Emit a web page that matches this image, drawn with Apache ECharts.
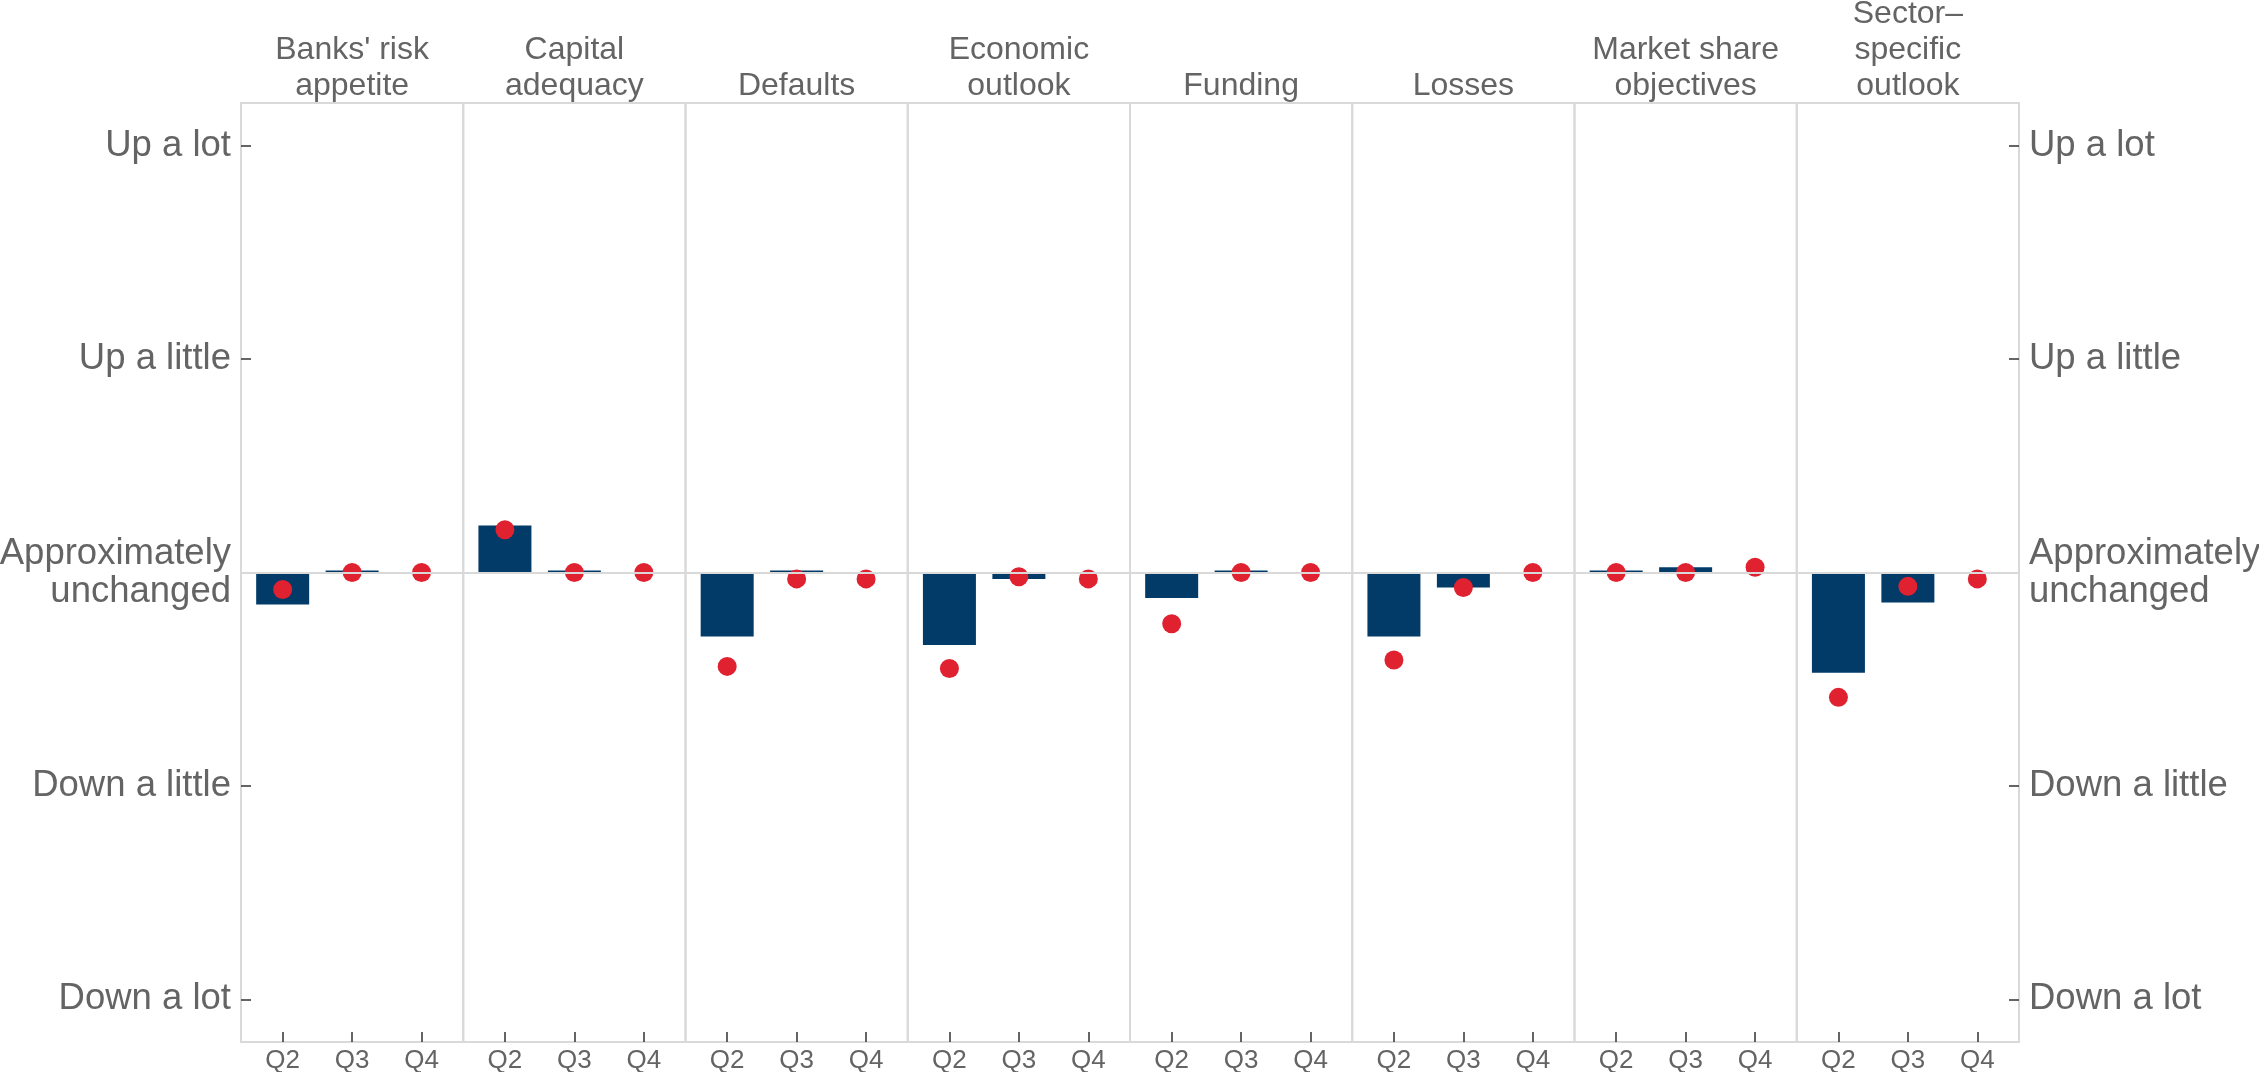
<!DOCTYPE html>
<html>
<head>
<meta charset="utf-8">
<script src="https://cdn.jsdelivr.net/npm/echarts@6/dist/echarts.min.js"></script>
<style>
  html, body { margin: 0; padding: 0; background: #fff; }
  #chart { width: 2259px; height: 1072px; }
</style>
</head>
<body>
<div id="chart"></div>
<script>
// panels (facets)
const sectors = ["Banks' risk\nappetite", "Capital\nadequacy", "Defaults", "Economic\noutlook",
  "Funding", "Losses", "Market share\nobjectives", "Sector\u2013\nspecific\noutlook"];
const quarters = ['Q2', 'Q3', 'Q4'];

// bars: realised change (Q2, Q3)
const actual = [
  [-0.15, 0], [0.22, 0], [-0.30, 0], [-0.34, -0.03],
  [-0.12, 0], [-0.30, -0.07], [0, 0.025], [-0.47, -0.14]
];
// dots: expected change (Q2, Q3, Q4)
const expected = [
  [-0.08, 0, 0], [0.20, 0, 0], [-0.44, -0.03, -0.03], [-0.45, -0.02, -0.03],
  [-0.24, 0, 0], [-0.41, -0.07, 0], [0, 0, 0.025], [-0.585, -0.065, -0.03]
];

const levels = [-2, -1, 0, 1, 2];
const levelLabels = ['Down a lot', 'Down a little', 'Approximately\nunchanged', 'Up a little', 'Up a lot'];

let font = "'Liberation Sans', Arial, sans-serif";
let grey = '#646464';
let plotLeft = 241, plotRight = 2019, plotTop = 103, plotBottom = 1042;
let pw = (plotRight - plotLeft) / sectors.length;

let grids = [], xAxes = [], yAxes = [], series = [], titles = [];

sectors.forEach((name, i) => {
  grids.push({
    left: plotLeft + i * pw, width: pw, top: plotTop, height: plotBottom - plotTop,
    outerBoundsMode: 'none', containLabel: false,
    show: true, borderColor: '#d9d9d9', borderWidth: 2, backgroundColor: 'transparent'
  });

  xAxes.push({
    type: 'value', gridIndex: i, min: 0.4, max: 3.6, position: 'bottom',
    axisLine: { show: false, onZero: false },
    splitLine: { show: false },
    axisTick: { show: true, inside: true, length: 10, customValues: [1, 2, 3], lineStyle: { color: '#333', width: 1.5 } },
    axisLabel: {
      customValues: [1, 2, 3], margin: 6, fontSize: 26, color: grey, fontFamily: font,
      formatter: (v) => quarters[Math.round(v) - 1]
    }
  });

  let showY = (i === 0 || i === sectors.length - 1);
  yAxes.push({
    type: 'value', gridIndex: i, min: -2.2, max: 2.2,
    position: i === 0 ? 'left' : 'right',
    show: showY,
    axisLine: { show: false },
    splitLine: { show: false },
    axisTick: { show: true, inside: true, length: 10, customValues: levels, lineStyle: { color: '#333', width: 1.5 } },
    axisLabel: {
      customValues: levels, margin: 10, fontSize: 36.5, lineHeight: 38, color: grey, fontFamily: font,
      formatter: (v) => levelLabels[levels.indexOf(Math.round(v))]
    }
  });

  // zero reference line
  series.push({
    type: 'line', xAxisIndex: i, yAxisIndex: i, data: [], z: 1, silent: true,
    markLine: {
      silent: true, symbol: 'none', label: { show: false },
      lineStyle: { color: '#d9d9d9', width: 2, type: 'solid' },
      data: [{ yAxis: 0 }]
    }
  });

  series.push({
    type: 'bar', xAxisIndex: i, yAxisIndex: i, z: 2,
    barWidth: 53, barMinHeight: 2,
    itemStyle: { color: '#023a68' },
    data: actual[i].map((v, j) => [j + 1, v])
  });

  series.push({
    type: 'scatter', xAxisIndex: i, yAxisIndex: i, z: 3,
    symbol: 'circle', symbolSize: 19,
    itemStyle: { color: '#df2130', opacity: 1 },
    data: expected[i].map((v, j) => [j + 1, v])
  });

  titles.push({
    text: name, left: plotLeft + (i + 0.5) * pw, textAlign: 'center',
    bottom: 1072 - 104, padding: 0,
    textStyle: { fontSize: 32, fontWeight: 'normal', color: grey, lineHeight: 36, fontFamily: font }
  });
});

let chart = echarts.init(document.getElementById('chart'));
chart.setOption({
  animation: false,
  backgroundColor: '#fff',
  title: titles,
  grid: grids,
  xAxis: xAxes,
  yAxis: yAxes,
  series: series
});
</script>
</body>
</html>
